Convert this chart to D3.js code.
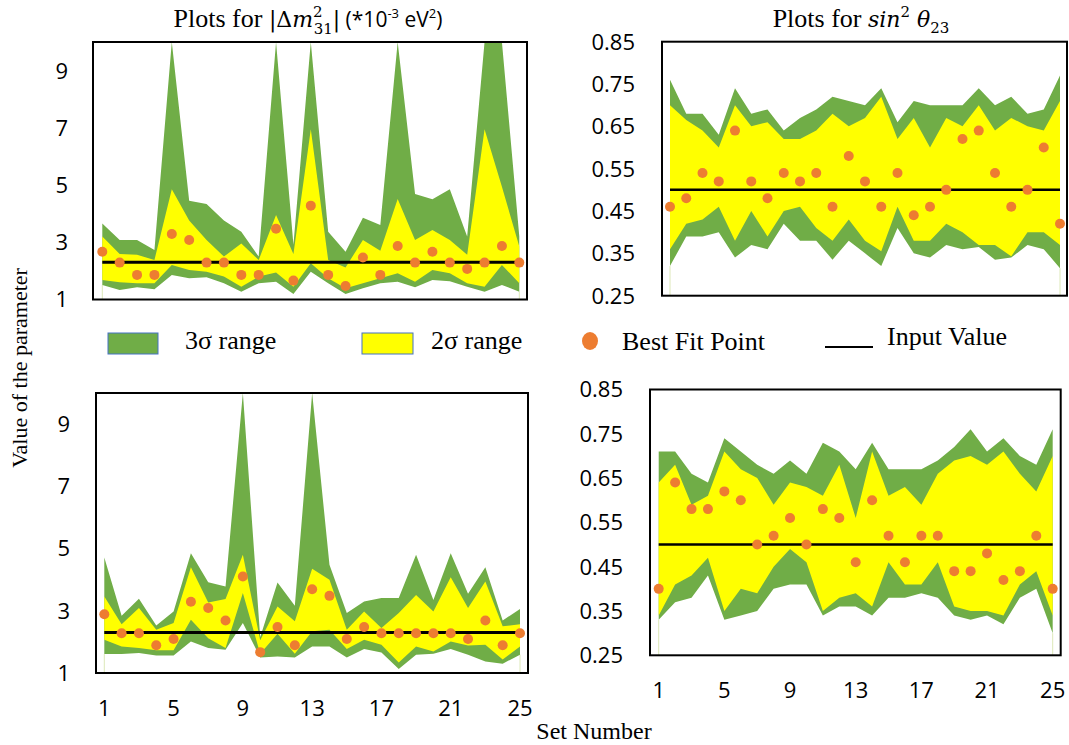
<!DOCTYPE html>
<html>
<head>
<meta charset="utf-8">
<script src="https://cdn.jsdelivr.net/npm/d3@7"></script>
<style>
  body { margin: 0; background: #fff; }
  svg { display: block; }
</style>
</head>
<body>
<script>
// set numbers on the x axis
const sets = [1,2,3,4,5,6,7,8,9,10,11,12,13,14,15,16,17,18,19,20,21,22,23,24,25];
const xTicks = [1,5,9,13,17,21,25];
const dmTicks = [1,3,5,7,9];
const thTicks = [0.25,0.35,0.45,0.55,0.65,0.75,0.85];

// input (true) values
const dmInput = 2.3;
const thInput = 0.5;

// top left: |dm31^2|
const dmTopUp3  = [3.66,3.08,3.08,2.73,10,4.45,4.34,3.76,3.37,2.50,10,2.91,10,3.37,2.67,3.86,3.60,10,4.69,4.50,4.85,3.20,10,10,3.20];
const dmTopUp2  = [3.20,2.59,2.56,2.38,4.85,3.76,3.08,2.50,2.96,2.38,3.95,2.59,6.95,2.38,2.12,3.08,2.70,4.51,3.08,3.43,3.08,2.56,6.95,4.94,2.85];
const dmTopLo2  = [1.68,1.60,1.57,1.57,2.21,2.03,1.97,1.80,1.45,1.80,1.94,1.45,2.27,1.74,1.39,1.57,1.74,1.92,1.62,2.03,1.92,1.57,1.45,2.21,1.57];
const dmTopLo3  = [1.51,1.33,1.43,1.36,1.86,1.74,1.78,1.57,1.27,1.57,1.62,1.19,1.97,1.57,1.19,1.39,1.57,1.62,1.43,1.68,1.64,1.45,1.27,1.51,1.27];
const dmTopBest = [2.67,2.29,1.86,1.86,3.29,3.08,2.29,2.29,1.86,1.86,3.47,1.66,4.28,1.86,1.47,2.47,1.86,2.87,2.29,2.67,2.29,2.07,2.29,2.87,2.29];

// bottom left: |dm31^2|
const dmBotUp3  = [4.71,2.84,3.39,2.53,2.98,4.85,3.92,3.78,10,2.15,3.91,3.16,10,4.48,2.93,3.30,3.41,3.41,4.80,3.35,4.85,3.55,4.40,2.69,3.06];
const dmBotUp2  = [3.46,2.57,3.09,2.39,2.61,4.40,3.27,3.38,4.80,2.05,3.14,2.66,4.35,4.00,2.39,2.98,2.45,2.93,3.51,2.98,4.08,3.09,3.94,2.50,2.57];
const dmBotLo2  = [2.07,1.85,1.80,1.73,1.73,2.71,2.12,1.80,3.57,1.62,2.26,1.62,2.34,2.39,1.77,2.07,1.91,1.34,1.85,1.69,2.01,1.88,1.91,1.43,1.85];
const dmBotLo3  = [1.61,1.61,1.64,1.56,1.56,2.01,1.80,1.75,2.61,1.50,1.53,1.50,1.85,1.85,1.50,1.77,1.66,1.13,1.59,1.62,1.77,1.59,1.37,1.30,1.59];
const dmBotBest = [2.89,2.28,2.28,1.89,2.09,3.29,3.09,2.69,4.10,1.67,2.48,1.89,3.69,3.48,2.09,2.48,2.28,2.28,2.28,2.28,2.28,2.09,2.69,1.89,2.28];

// top right: sin^2 theta23
const thTopUp3  = [0.76,0.68,0.68,0.63,0.74,0.68,0.69,0.64,0.67,0.69,0.72,0.71,0.70,0.74,0.66,0.71,0.70,0.70,0.70,0.74,0.70,0.72,0.68,0.69,0.77];
const thTopUp2  = [0.70,0.665,0.64,0.60,0.70,0.65,0.66,0.62,0.62,0.64,0.68,0.65,0.67,0.72,0.62,0.67,0.60,0.67,0.65,0.70,0.64,0.67,0.65,0.64,0.71];
const thTopLo2  = [0.36,0.42,0.43,0.46,0.38,0.45,0.39,0.45,0.46,0.41,0.38,0.43,0.38,0.355,0.46,0.38,0.38,0.42,0.40,0.37,0.37,0.343,0.40,0.40,0.37];
const thTopLo3  = [0.32,0.39,0.39,0.40,0.34,0.37,0.36,0.42,0.38,0.38,0.335,0.38,0.35,0.32,0.41,0.35,0.34,0.37,0.36,0.365,0.335,0.34,0.37,0.36,0.315];
const thTopBest = [0.46,0.48,0.54,0.52,0.64,0.52,0.48,0.54,0.52,0.54,0.46,0.58,0.52,0.46,0.54,0.44,0.46,0.50,0.62,0.64,0.54,0.46,0.50,0.60,0.42];

// bottom right: sin^2 theta23
const thBotUp3  = [0.71,0.71,0.66,0.64,0.74,0.71,0.68,0.66,0.69,0.66,0.73,0.71,0.67,0.73,0.67,0.67,0.67,0.69,0.72,0.76,0.71,0.74,0.70,0.68,0.76];
const thBotUp2  = [0.64,0.68,0.59,0.61,0.71,0.67,0.65,0.59,0.64,0.63,0.61,0.68,0.56,0.71,0.61,0.63,0.59,0.66,0.69,0.70,0.68,0.71,0.66,0.62,0.70];
const thBotLo2  = [0.34,0.41,0.43,0.47,0.35,0.40,0.39,0.45,0.49,0.46,0.35,0.38,0.39,0.36,0.46,0.41,0.41,0.46,0.36,0.35,0.35,0.34,0.41,0.44,0.34];
const thBotLo3  = [0.33,0.37,0.38,0.43,0.33,0.34,0.35,0.40,0.41,0.41,0.34,0.36,0.36,0.34,0.38,0.38,0.39,0.38,0.34,0.33,0.34,0.32,0.38,0.40,0.30];
const thBotBest = [0.40,0.64,0.58,0.58,0.62,0.60,0.50,0.52,0.56,0.50,0.58,0.56,0.46,0.60,0.52,0.46,0.52,0.52,0.44,0.44,0.48,0.42,0.44,0.52,0.40];

const green = '#70ad47', yellow = '#ffff00', orange = '#ed7d31';
const tickFont = '"Open Sans", sans-serif';
const serif = '"Liberation Serif", "Times New Roman", serif';
const mathFont = '"DejaVu Serif", serif';

const svg = d3.select('body').append('svg')
  .attr('width', 1069)
  .attr('height', 745);

const panels = [
  { id: 'tl', fx: [93, 527], fy: [42, 299.5], xr: [102.3, 519.3], dom: [1, 10], ticks: dmTicks, fmt: d3.format('d'),
    labX: 68, xLabY: null, lw: 3, input: dmInput,
    up3: dmTopUp3, up2: dmTopUp2, lo2: dmTopLo2, lo3: dmTopLo3, best: dmTopBest },
  { id: 'bl', fx: [96, 528], fy: [393, 673], xr: [104.3, 520], dom: [1, 10], ticks: dmTicks, fmt: d3.format('d'),
    labX: 70, xLabY: 708, lw: 3, input: dmInput,
    up3: dmBotUp3, up2: dmBotUp2, lo2: dmBotLo2, lo3: dmBotLo3, best: dmBotBest },
  { id: 'tr', fx: [662, 1067], fy: [41.7, 295.7], xr: [670, 1060], dom: [0.25, 0.85], ticks: thTicks, fmt: d3.format('.2f'),
    labX: 635, xLabY: null, lw: 2.5, input: thInput,
    up3: thTopUp3, up2: thTopUp2, lo2: thTopLo2, lo3: thTopLo3, best: thTopBest },
  { id: 'br', fx: [650, 1060.7], fy: [389.5, 655.3], xr: [658.7, 1052.7], dom: [0.25, 0.85], ticks: thTicks, fmt: d3.format('.2f'),
    labX: 623, xLabY: 690, lw: 2.5, input: thInput,
    up3: thBotUp3, up2: thBotUp2, lo2: thBotLo2, lo3: thBotLo3, best: thBotBest }
];

panels.forEach(p => {
  const x = d3.scaleLinear().domain([1, 25]).range(p.xr);
  const y = d3.scaleLinear().domain(p.dom).range([p.fy[1], p.fy[0]]);
  const rows = sets.map((s, i) => ({ s, up3: p.up3[i], up2: p.up2[i], lo2: p.lo2[i], lo3: p.lo3[i], best: p.best[i] }));

  svg.append('clipPath').attr('id', 'clip-' + p.id)
    .append('rect')
    .attr('x', p.fx[0]).attr('y', p.fy[0])
    .attr('width', p.fx[1] - p.fx[0]).attr('height', p.fy[1] - p.fy[0]);

  const g = svg.append('g').attr('clip-path', `url(#clip-${p.id})`);

  // faint edge lines of the area series
  g.selectAll('line.edge')
    .data([rows[0], rows[rows.length - 1]])
    .join('line')
    .attr('class', 'edge')
    .attr('x1', d => x(d.s)).attr('x2', d => x(d.s))
    .attr('y1', d => y(d.lo3)).attr('y2', p.fy[1])
    .attr('stroke', '#dde8b8').attr('stroke-width', 1);

  const area3 = d3.area().x(d => x(d.s)).y0(d => y(d.lo3)).y1(d => y(d.up3));
  const area2 = d3.area().x(d => x(d.s)).y0(d => y(d.lo2)).y1(d => y(d.up2));

  g.append('path').datum(rows).attr('d', area3).attr('fill', green);
  g.append('path').datum(rows).attr('d', area2).attr('fill', yellow);

  g.append('line')
    .attr('x1', x(1)).attr('x2', x(25))
    .attr('y1', y(p.input)).attr('y2', y(p.input))
    .attr('stroke', '#000').attr('stroke-width', p.lw);

  svg.append('g').selectAll('circle')
    .data(rows)
    .join('circle')
    .attr('cx', d => x(d.s))
    .attr('cy', d => y(d.best))
    .attr('r', 5)
    .attr('fill', orange);

  // frame
  svg.append('rect')
    .attr('x', p.fx[0]).attr('y', p.fy[0])
    .attr('width', p.fx[1] - p.fx[0]).attr('height', p.fy[1] - p.fy[0])
    .attr('fill', 'none').attr('stroke', '#000').attr('stroke-width', 2);

  // y tick labels
  svg.append('g').selectAll('text')
    .data(p.ticks)
    .join('text')
    .attr('x', p.labX)
    .attr('y', d => y(d))
    .attr('dy', '0.36em')
    .attr('text-anchor', 'end')
    .attr('font-family', tickFont)
    .attr('font-size', 22)
    .attr('fill', '#000')
    .text(p.fmt);

  // x tick labels
  if (p.xLabY) {
    svg.append('g').selectAll('text')
      .data(xTicks)
      .join('text')
      .attr('x', d => x(d))
      .attr('y', p.xLabY)
      .attr('dy', '0.36em')
      .attr('text-anchor', 'middle')
      .attr('font-family', tickFont)
      .attr('font-size', 22)
      .attr('fill', '#000')
      .text(d => d);
  }
});

// titles
const t1 = svg.append('text')
  .attr('x', 308).attr('y', 27)
  .attr('text-anchor', 'middle')
  .attr('font-family', serif)
  .attr('font-size', 26);
t1.append('tspan').text('Plots for  ');
t1.append('tspan').attr('font-family', mathFont).attr('font-size', 22).text('|Δ');
t1.append('tspan').attr('font-family', mathFont).attr('font-style', 'italic').attr('font-size', 22).text('m');
t1.append('tspan').attr('font-family', mathFont).attr('font-size', 15).attr('dy', -10).text('2');
t1.append('tspan').attr('font-family', mathFont).attr('font-size', 15).attr('dx', -9).attr('dy', 17).text('31');
t1.append('tspan').attr('font-family', mathFont).attr('font-size', 22).attr('dy', -7).text('|');
t1.append('tspan').attr('font-family', tickFont).attr('font-size', 21).text(' (*10');
t1.append('tspan').attr('font-family', tickFont).attr('font-size', 13).attr('dy', -9).text('-3');
t1.append('tspan').attr('font-family', tickFont).attr('font-size', 21).attr('dy', 9).text(' eV');
t1.append('tspan').attr('font-family', tickFont).attr('font-size', 13).attr('dy', -9).text('2');
t1.append('tspan').attr('font-family', tickFont).attr('font-size', 21).attr('dy', 9).text(')');

const t2 = svg.append('text')
  .attr('x', 861).attr('y', 27)
  .attr('text-anchor', 'middle')
  .attr('font-family', serif)
  .attr('font-size', 26);
t2.append('tspan').text('Plots for  ');
t2.append('tspan').attr('font-family', mathFont).attr('font-style', 'italic').attr('font-size', 22).text('sin');
t2.append('tspan').attr('font-family', mathFont).attr('font-size', 15).attr('dy', -10).text('2');
t2.append('tspan').attr('font-family', mathFont).attr('font-style', 'italic').attr('font-size', 22).attr('dy', 10).text(' θ');
t2.append('tspan').attr('font-family', mathFont).attr('font-size', 15).attr('dy', 6).text('23');

// legend
const legend = svg.append('g').attr('font-family', serif).attr('font-size', 26).attr('fill', '#000');
legend.append('rect').attr('x', 108).attr('y', 333).attr('width', 50).attr('height', 21)
  .attr('fill', green).attr('stroke', '#4472c4').attr('stroke-width', 1);
legend.append('text').attr('x', 185).attr('y', 349).text('3σ range');
legend.append('rect').attr('x', 362).attr('y', 333).attr('width', 51).attr('height', 21)
  .attr('fill', yellow).attr('stroke', '#4472c4').attr('stroke-width', 1);
legend.append('text').attr('x', 431).attr('y', 349).text('2σ range');
legend.append('ellipse').attr('cx', 590).attr('cy', 341).attr('rx', 8).attr('ry', 9).attr('fill', orange);
legend.append('text').attr('x', 622).attr('y', 350).text('Best Fit Point');
legend.append('line').attr('x1', 825).attr('x2', 873).attr('y1', 347).attr('y2', 347)
  .attr('stroke', '#000').attr('stroke-width', 2);
legend.append('text').attr('x', 887).attr('y', 345).text('Input Value');

// axis titles
svg.append('text')
  .attr('transform', 'translate(27,368) rotate(-90)')
  .attr('text-anchor', 'middle')
  .attr('font-family', serif)
  .attr('font-size', 22)
  .text('Value of the parameter');

svg.append('text')
  .attr('x', 594).attr('y', 739)
  .attr('text-anchor', 'middle')
  .attr('font-family', serif)
  .attr('font-size', 24)
  .text('Set Number');
</script>
</body>
</html>
